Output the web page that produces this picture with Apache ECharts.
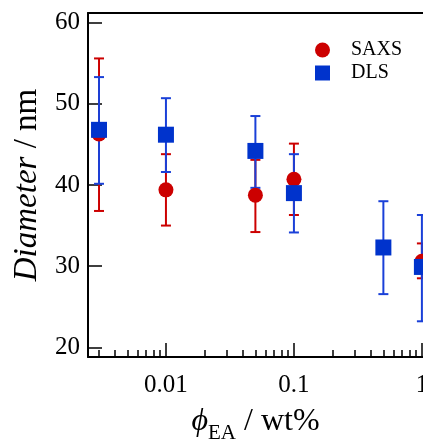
<!DOCTYPE html>
<html><head><meta charset="utf-8">
<script src="https://cdn.jsdelivr.net/npm/echarts@6/dist/echarts.min.js"></script>
<style>html,body{margin:0;padding:0;background:#fff}#c{width:423px;height:441px}</style>
</head><body><div id="c"></div>
<script>
// ---- data ----
const seriesNames = ['SAXS', 'DLS'];
const saxsConc = [0.003, 0.01, 0.05, 0.1, 1];
const saxsDiam = [46.3, 39.4, 38.75, 40.7, 30.6];
const saxsLow  = [36.8, 35.0, 34.2, 36.3, 28.5];
const saxsHigh = [55.6, 43.8, 43.1, 45.1, 32.8];
const dlsConc = [0.003, 0.01, 0.05, 0.1, 0.5, 1];
const dlsDiam = [46.8, 46.2, 44.2, 39.0, 32.3, 29.9];
const dlsLow  = [40.15, 41.6, 39.65, 34.15, 26.55, 23.2];
const dlsHigh = [53.3, 50.7, 48.5, 43.8, 38.0, 36.3];
const xMajorTicks = [0.01, 0.1, 1];
const xTickLabels = ['0.01', '0.1', '1'];
const xMinorTicks = [0.003, 0.004, 0.005, 0.006, 0.007, 0.008, 0.009,
                     0.02, 0.03, 0.04, 0.05, 0.06, 0.07, 0.08, 0.09,
                     0.2, 0.3, 0.4, 0.5, 0.6, 0.7, 0.8, 0.9];
const yTicks = [20, 30, 40, 50, 60];
const xRange = [0.00246, 1.02];
const yRange = [18.8, 61.2];

// ---- styling ----
const FONT = '"Liberation Serif","Times New Roman",serif';
const RED = '#cc0000', BLUE = '#0033cc', BLUE_ERR = '#1a40d8';

function errSeries(name, xs, lo, hi, color) {
  return {
    type: 'custom', name: name, silent: true,
    data: xs.map((x, i) => [x, lo[i], hi[i]]),
    encode: { x: 0, y: [1, 2] },
    clip: false,
    renderItem: function (params, api) {
      const x = api.value(0);
      const p1 = api.coord([x, api.value(1)]);
      const p2 = api.coord([x, api.value(2)]);
      const hw = 5;
      const st = { stroke: color, lineWidth: 2 };
      return { type: 'group', children: [
        { type: 'line', shape: { x1: p1[0], y1: p1[1], x2: p2[0], y2: p2[1] }, style: st },
        { type: 'line', shape: { x1: p1[0] - hw, y1: p1[1], x2: p1[0] + hw, y2: p1[1] }, style: st },
        { type: 'line', shape: { x1: p2[0] - hw, y1: p2[1], x2: p2[0] + hw, y2: p2[1] }, style: st }
      ]};
    }
  };
}

const chart = echarts.init(document.getElementById('c'), null, { renderer: 'canvas' });
chart.setOption({
  backgroundColor: '#fff',
  animation: false,
  textStyle: { fontFamily: FONT },
  grid: { left: 88, top: 13, right: 0, bottom: 84, containLabel: false, outerBoundsMode: 'none' },
  legend: {
    data: seriesNames, orient: 'vertical', left: 310, top: 35,
    itemWidth: 15, itemHeight: 15, itemGap: 3, selectedMode: false,
    textStyle: { fontFamily: FONT, fontSize: 20, color: '#000', padding: [0, 0, 0, 16] }
  },
  xAxis: [
    {
      type: 'log', logBase: 10, min: xRange[0], max: xRange[1], position: 'bottom',
      axisLine: { onZero: false, lineStyle: { color: '#000', width: 2 } },
      axisTick: { inside: true, length: 14, customValues: xMajorTicks, lineStyle: { color: '#000', width: 1.5 } },
      axisLabel: {
        customValues: xMajorTicks, color: '#000', fontFamily: FONT, fontSize: 25, margin: 16,
        formatter: function (v) {
          for (let i = 0; i < xMajorTicks.length; i++) {
            if (Math.abs(Math.log10(v) - Math.log10(xMajorTicks[i])) < 1e-6) return xTickLabels[i];
          }
          return '';
        }
      },
      splitLine: { show: false }, minorSplitLine: { show: false },
      name: '{i|\u03D5}{s|EA}{n| / wt%}', nameLocation: 'middle', nameGap: 49,
      nameTextStyle: {
        rich: {
          i: { fontFamily: FONT, fontStyle: 'italic', fontSize: 32, color: '#000', lineHeight: 32, verticalAlign: 'top' },
          s: { fontFamily: FONT, fontSize: 21, color: '#000', lineHeight: 54, verticalAlign: 'middle' },
          n: { fontFamily: FONT, fontSize: 32, color: '#000', lineHeight: 32, verticalAlign: 'top' }
        }
      }
    },
    {
      type: 'log', logBase: 10, min: xRange[0], max: xRange[1], position: 'bottom',
      axisLine: { show: false, onZero: false },
      axisTick: { inside: true, length: 7, customValues: xMinorTicks, lineStyle: { color: '#000', width: 1.5 } },
      axisLabel: { show: false }, splitLine: { show: false }
    },
    {
      type: 'log', logBase: 10, min: xRange[0], max: xRange[1], position: 'top',
      axisLine: { onZero: false, lineStyle: { color: '#000', width: 2 } },
      axisTick: { show: false }, axisLabel: { show: false }, splitLine: { show: false }
    }
  ],
  yAxis: [{
    type: 'value', min: yRange[0], max: yRange[1],
    axisLine: { lineStyle: { color: '#000', width: 2 } },
    axisTick: { inside: true, length: 14, customValues: yTicks, lineStyle: { color: '#000', width: 1.5 } },
    axisLabel: { customValues: yTicks, color: '#000', fontFamily: FONT, fontSize: 25, margin: 8 },
    splitLine: { show: false },
    name: '{i|Diameter}{n| / nm}', nameLocation: 'middle', nameGap: 44, nameRotate: 90,
    nameTextStyle: {
      rich: {
        i: { fontFamily: FONT, fontStyle: 'italic', fontSize: 33, color: '#000' },
        n: { fontFamily: FONT, fontSize: 33, color: '#000' }
      }
    }
  }],
  series: [
    errSeries('SAXS err', saxsConc, saxsLow, saxsHigh, RED),
    {
      type: 'scatter', name: seriesNames[0], symbol: 'circle', symbolSize: 15,
      itemStyle: { color: RED, opacity: 1 },
      data: saxsConc.map((x, i) => [x, saxsDiam[i]])
    },
    errSeries('DLS err', dlsConc, dlsLow, dlsHigh, BLUE_ERR),
    {
      type: 'scatter', name: seriesNames[1], symbol: 'rect', symbolSize: 16,
      itemStyle: { color: BLUE, opacity: 1 },
      data: dlsConc.map((x, i) => [x, dlsDiam[i]])
    }
  ]
});
</script></body></html>
